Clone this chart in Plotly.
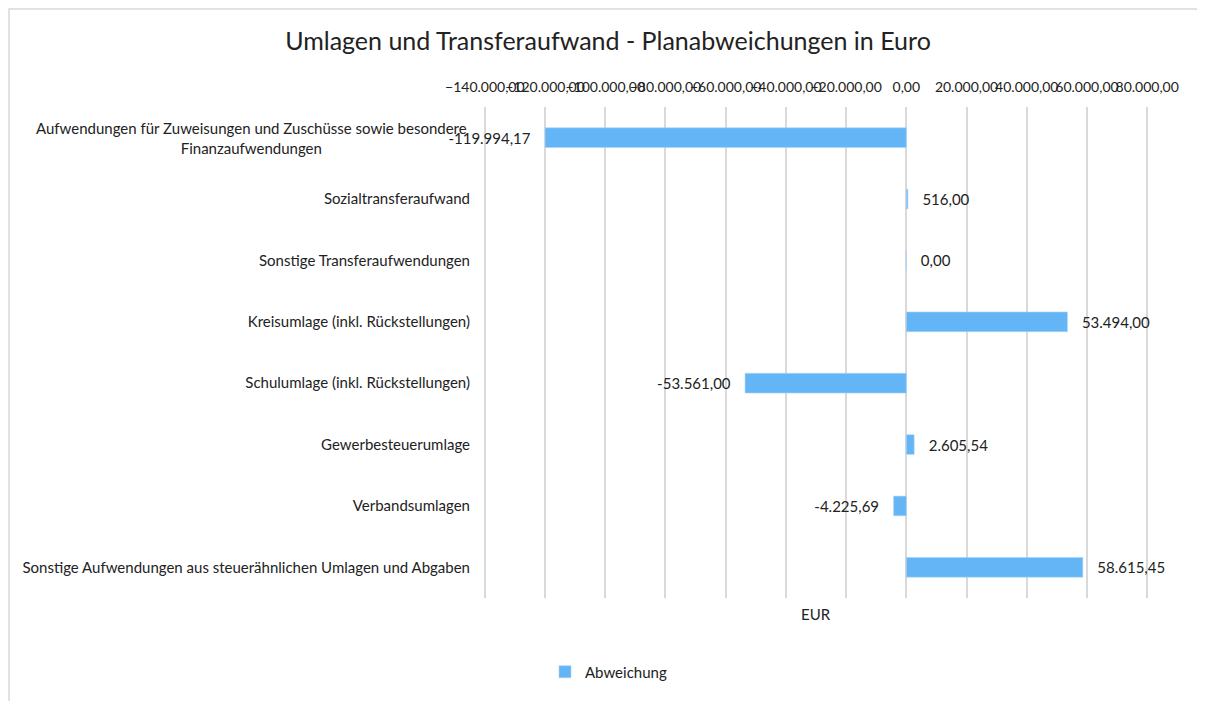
import plotly.graph_objects as go

categories = [
    "Aufwendungen für Zuweisungen und Zuschüsse sowie besondere<br>Finanzaufwendungen",
    "Sozialtransferaufwand",
    "Sonstige Transferaufwendungen",
    "Kreisumlage (inkl. Rückstellungen)",
    "Schulumlage (inkl. Rückstellungen)",
    "Gewerbesteuerumlage",
    "Verbandsumlagen",
    "Sonstige Aufwendungen aus steuerähnlichen Umlagen und Abgaben",
]
values = [-119994.17, 516.00, 0.00, 53494.00, -53561.00, 2605.54, -4225.69, 58615.45]
tick_vals = [-140000, -120000, -100000, -80000, -60000, -40000, -20000, 0, 20000, 40000, 60000, 80000]

FONT = "Lato"
FS = 15
W, H = 1205, 701
OFF = 8  # page offset of the figure
L, R, T, B = 483 - OFF, W - (1149 - OFF), 107 - OFF, H - (598 - OFF)
pw, ph = W - L - R, H - T - B

PAD = "\u00a0\u00a0\u00a0"
templates = [(PAD + "%{x:,.2f}") if v >= 0 else ("%{x:,.2f}" + PAD) for v in values]

fig = go.Figure()
fig.add_trace(go.Bar(
    y=categories, x=values, orientation="h", name="Abweichung",
    marker=dict(color="#63B5F5", line=dict(color="#A9D4F8", width=0.6)),
    width=0.32,
    texttemplate=templates, textposition="outside",
    textfont=dict(family=FONT, size=FS, color="#222"),
    cliponaxis=False,
))

ticktext = [""] + categories[1:]

fig.update_layout(
    width=W, height=H,
    separators=",.",
    paper_bgcolor="white", plot_bgcolor="white",
    margin=dict(l=L, r=R, t=T, b=B, autoexpand=False),
    font=dict(family=FONT, size=FS, color="#222"),
    title=dict(text="Umlagen und Transferaufwand - Planabweichungen in Euro",
               x=(608 - OFF) / W, xref="container", xanchor="center",
               y=1 - (41 - OFF) / H, yref="container", yanchor="middle",
               font=dict(family=FONT, size=25, color="#222")),
    showlegend=True,
    legend=dict(orientation="h", x=(545 - OFF - L) / pw, y=-74 / ph, xanchor="left", yanchor="middle",
                font=dict(family=FONT, size=FS), itemwidth=30),
    bargap=0.68,
)
fig.update_xaxes(
    side="top", range=[-140600, 80600], tickvals=tick_vals, tickformat=",.2f",
    tickangle=0, automargin=False,
    showgrid=True, gridcolor="#D9D9D9", gridwidth=1.5,
    zeroline=True, zerolinecolor="#D9D9D9", zerolinewidth=1.5,
    showline=False, ticks="", ticklabelstandoff=11,
    tickfont=dict(family=FONT, size=14, color="#222"),
)
fig.update_yaxes(
    autorange="reversed", tickvals=categories, ticktext=ticktext,
    automargin=False,
    showgrid=False, showline=False, ticks="", ticklabelstandoff=12,
    tickfont=dict(family=FONT, size=FS, color="#222"),
)
fig.add_annotation(
    x=-14 / pw, xref="paper", y=categories[0], yref="y",
    text=categories[0], showarrow=False, xanchor="right", align="center",
    font=dict(family=FONT, size=FS, color="#222"),
)
fig.add_annotation(
    x=0.5, xref="paper", y=-16 / ph, yref="paper", text="EUR",
    showarrow=False, xanchor="center", yanchor="middle",
    font=dict(family=FONT, size=FS, color="#222"),
)
fig.add_shape(
    type="rect", xref="paper", yref="paper",
    x0=(1 - L) / pw, x1=(W + 10 - L) / pw,
    y0=-(B + 20) / ph, y1=(H - B - 1) / ph,
    line=dict(color="#D9D9D9", width=1.5), layer="below",
)

fig.write_html("out.html")
